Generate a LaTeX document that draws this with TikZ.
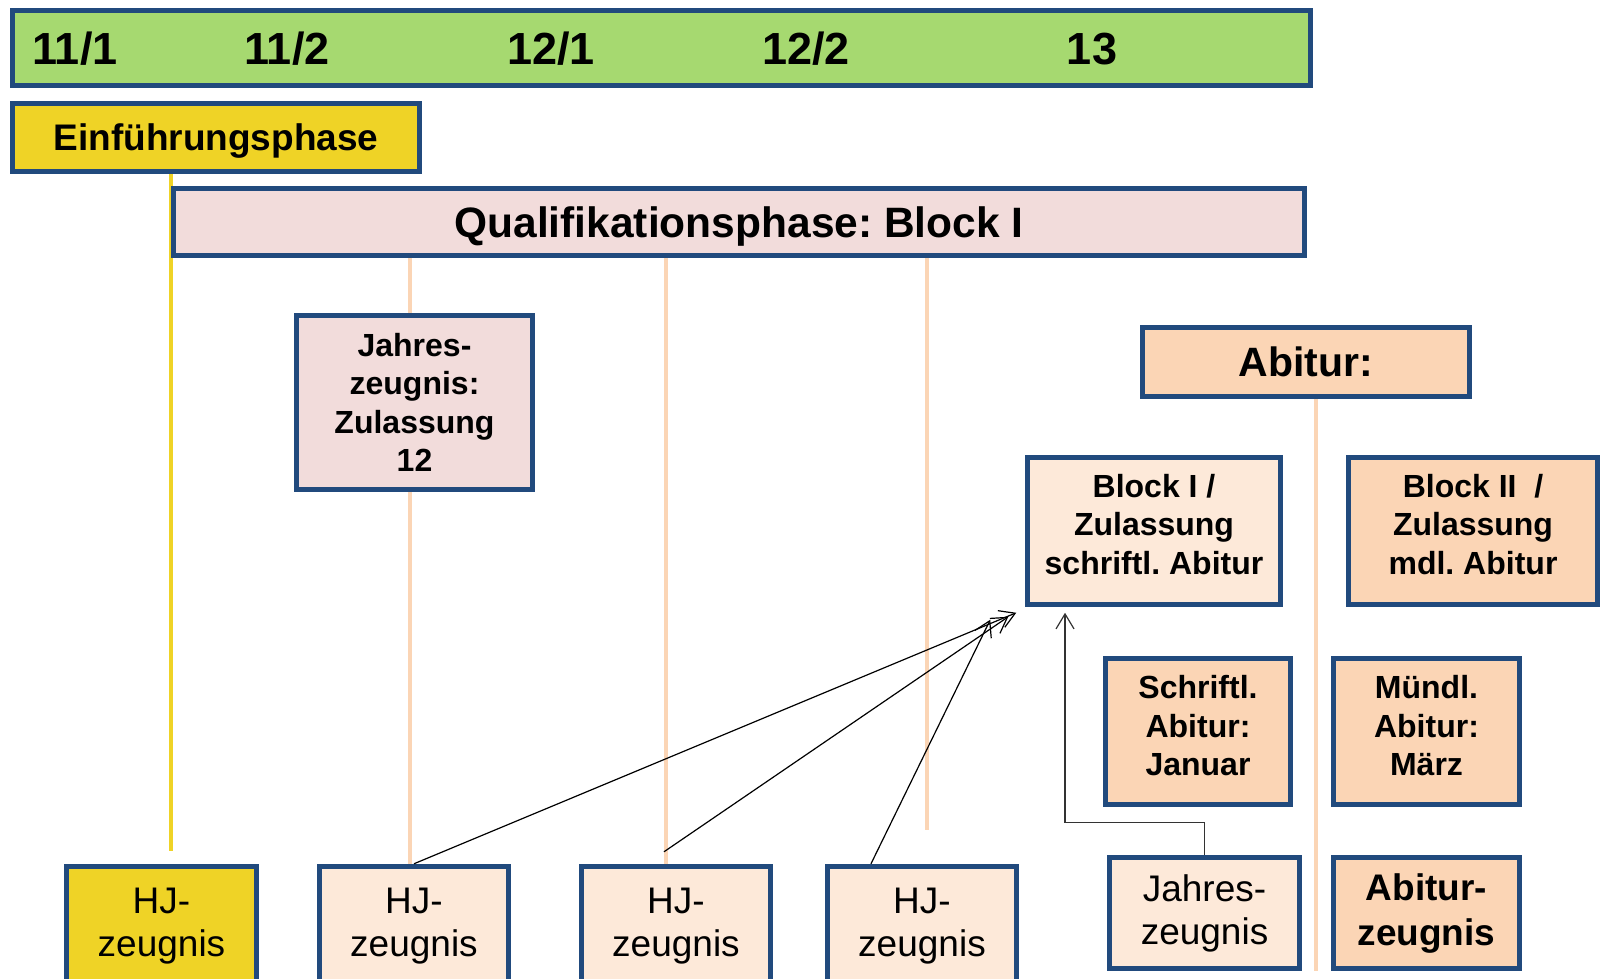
\documentclass[tikz,border=0pt]{standalone}
\usepackage{fontspec}
\setmainfont{Liberation Sans}
\usetikzlibrary{arrows.meta, backgrounds}
\frenchspacing

\definecolor{frameblue}{RGB}{33,74,125}
\definecolor{bargreen}{RGB}{166,217,112}
\definecolor{einfyellow}{RGB}{239,211,38}
\definecolor{qualipink}{RGB}{242,220,219}
\definecolor{lightpeach}{RGB}{253,233,217}
\definecolor{peach}{RGB}{251,213,181}

\begin{document}
\begin{tikzpicture}[x=1pt, y=-1pt,
    box/.style={rectangle, draw=frameblue, line width=5.5pt, inner sep=0pt, align=center},
    semtxt/.style={font=\fontsize{45}{50}\selectfont\bfseries},
    boxtxt/.style={box, font=\fontsize{32}{38.5}\selectfont\bfseries},
    hjbox/.style={box, fill=lightpeach, minimum width=189pt, minimum height=120pt, font=\fontsize{37}{43}\selectfont},
    yline/.style={draw=einfyellow, line width=4pt},
    pline/.style={draw=peach, line width=4.5pt},
    arr/.style={draw, line width=1.2pt, -{Straight Barb[length=15pt, width=18pt]}}
]
    \useasboundingbox (0,0) rectangle (1602,978);

    % Semester bar
    \node [box, fill=bargreen, minimum width=1298pt, minimum height=75pt] (bar) at (661.5,48) {};
    \node [semtxt] (s111) at (75,49) {11/1};
    \node [semtxt] (s112) at (287,49) {11/2};
    \node [semtxt] (s121) at (551,49) {12/1};
    \node [semtxt] (s122) at (806,49) {12/2};
    \node [semtxt] (s13) at (1092,49) {13};

    % Phases
    \node [box, fill=einfyellow, minimum width=407pt, minimum height=68pt, text depth=0pt, font=\fontsize{37}{42}\selectfont\bfseries] (einf) at (216,137.5) {Einführungsphase};
    \node [box, fill=qualipink, minimum width=1131pt, minimum height=67pt, text depth=0pt, font=\fontsize{42.5}{48}\selectfont\bfseries] (quali) at (739,222) {Qualifikationsphase: Block I};

    % Zeugnisse
    \node [boxtxt, fill=qualipink, minimum width=236pt, minimum height=174pt] (jz12) at (414.5,402.5) {Jahres-\\zeugnis:\\Zulassung\\12};
    \node [hjbox, fill=einfyellow, minimum width=190pt] (hj1) at (161.5,926.5) {HJ-\\zeugnis};
    \node [hjbox] (hj2) at (414,926.5) {HJ-\\zeugnis};
    \node [hjbox] (hj3) at (676,926.5) {HJ-\\zeugnis};
    \node [hjbox] (hj4) at (922,926.5) {HJ-\\zeugnis};

    % Abitur
    \node [box, fill=peach, minimum width=327pt, minimum height=69pt, font=\fontsize{41}{46}\selectfont\bfseries] (abi) at (1306,362) {Abitur:};
    \node [boxtxt, fill=lightpeach, minimum width=253pt, minimum height=147pt, text depth=14pt] (blk1) at (1154,531) {Block I /\\Zulassung\\schriftl. Abitur};
    \node [boxtxt, fill=peach, minimum width=249pt, minimum height=147pt, text depth=14pt] (blk2) at (1473,531) {Block II\ \ /\\Zulassung\\mdl. Abitur};
    \node [boxtxt, fill=peach, minimum width=185pt, minimum height=146pt, text depth=12pt] (schr) at (1198,731.5) {Schriftl.\\Abitur:\\Januar};
    \node [boxtxt, fill=peach, minimum width=186pt, minimum height=146pt, text depth=12pt] (muendl) at (1426.5,731.5) {Mündl.\\Abitur:\\März};
    \node [hjbox, minimum width=190pt, minimum height=111pt] (jz) at (1204.5,913) {Jahres-\\zeugnis};
    \node [hjbox, fill=peach, minimum width=186pt, minimum height=111pt, font=\fontsize{37}{45}\selectfont\bfseries] (abz) at (1426.5,913) {Abitur-\\zeugnis};

    % Time lines
    \begin{scope}[on background layer]
        \path [yline] (einf.south -| quali.west) -- ([yshift=13pt]hj1.north -| quali.west);
        \path [pline] ([xshift=-4pt]hj2.north |- quali.south) -- ([xshift=-4pt]hj2.north);
        \path [pline] ([xshift=-10pt]hj3.north |- quali.south) -- ([xshift=-10pt]hj3.north);
        \path [pline] ([xshift=5pt]hj4.north |- quali.south) -- ([shift={(5,-33.5)}]hj4.north);
        \path [pline] ([xshift=10pt]abi.south) -- ([xshift=10pt]abi.south |- abz.south);
    \end{scope}

    % Connections
    \path [arr] (hj2.north) -- ([shift={(-8.5,5.5)}]blk1.south west);
    \path [arr] ([shift={(-12,-12)}]hj3.north) -- ([shift={(-16.5,9.5)}]blk1.south west);
    \path [arr] ([xshift=-51pt]hj4.north) -- ([shift={(-34.5,12.5)}]blk1.south west);
    \path [arr, draw=black!80] (jz.north) -- ++(0,-32) -| ([shift={(-89,5.5)}]blk1.south);
\end{tikzpicture}
\end{document}
